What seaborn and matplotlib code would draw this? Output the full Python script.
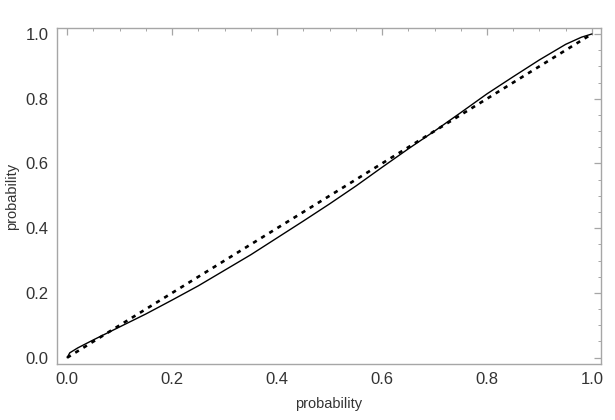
import numpy as np
import pandas as pd
import matplotlib
matplotlib.use("Agg")
import matplotlib.pyplot as plt
import seaborn as sns
from matplotlib.ticker import MultipleLocator

pp_x = [0.0, 0.005, 0.02, 0.05, 0.1, 0.15, 0.2, 0.25, 0.3, 0.35, 0.4, 0.45,
        0.5, 0.55, 0.6, 0.65, 0.7, 0.75, 0.8, 0.85, 0.9, 0.95, 0.98, 1.0]
pp_y = [0.0, 0.015, 0.03, 0.055, 0.095, 0.135, 0.178, 0.222, 0.27, 0.318, 0.37, 0.422,
        0.475, 0.53, 0.588, 0.645, 0.70, 0.757, 0.815, 0.868, 0.92, 0.968, 0.99, 1.0]

# Reference diagonal
diag_x = [0.0, 1.0]
diag_y = [0.0, 1.0]

ticks = [0.0, 0.2, 0.4, 0.6, 0.8, 1.0]

sns.set_theme(style="white")
plt.rcParams['font.family'] = ['Liberation Sans', 'DejaVu Sans']

fig, ax = plt.subplots(figsize=(6.15, 4.2), dpi=100)
fig.subplots_adjust(left=0.093, right=0.977, top=0.933, bottom=0.133)

sns.lineplot(x=pp_x, y=pp_y, ax=ax, color="black", linewidth=1.0, estimator=None, sort=False)
sns.lineplot(x=diag_x, y=diag_y, ax=ax, color="black", linewidth=1.9,
             linestyle=(0, (1.6, 2.0)), estimator=None)

ax.set_xlim(-0.019, 1.017)
ax.set_ylim(-0.02, 1.018)
ax.set_xticks(ticks)
ax.set_yticks(ticks)
ax.set_xticklabels([f"{t:.1f}" for t in ticks])
ax.set_yticklabels([f"{t:.1f}" for t in ticks])
ax.xaxis.set_minor_locator(MultipleLocator(0.05))
ax.yaxis.set_minor_locator(MultipleLocator(0.05))

frame = "#a6a6a6"
for sp in ax.spines.values():
    sp.set_color(frame)
    sp.set_linewidth(1.0)
ax.tick_params(which="both", direction="in", top=True, right=True, color=frame,
               labelcolor="#333333", labelsize=12)
ax.tick_params(which="major", length=5, width=0.9, pad=6)
ax.tick_params(which="minor", length=2.5, width=0.7)

ax.set_xlabel("probability", fontsize=10.5, color="#333333", labelpad=7)
ax.set_ylabel("probability", fontsize=10.5, color="#333333", labelpad=5)

fig.savefig("out.png", dpi=100)
